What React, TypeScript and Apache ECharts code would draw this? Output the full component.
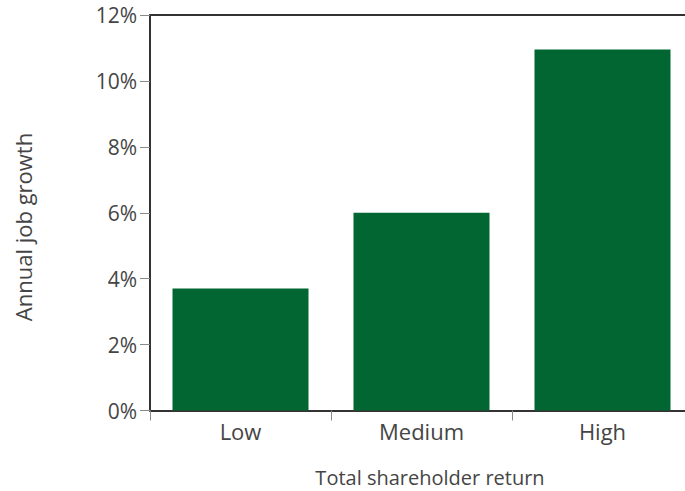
import React, { useEffect, useRef } from "react";
import * as echarts from "echarts";

const categories = ["Low", "Medium", "High"];
const jobGrowth = [3.7, 6.0, 10.95];
const yMin = 0;
const yMax = 12;
const yStep = 2;
const xTitle = "Total shareholder return";
const yTitle = "Annual job growth";

const FONT = "'Open Sans', 'Noto Sans', sans-serif";
const TEXT = "#454545";
const GREEN = "#026633";

export default function App() {
  const ref = useRef<HTMLDivElement>(null);

  useEffect(() => {
    if (!ref.current) return;
    const chart = echarts.init(ref.current, null, { renderer: "svg" });
    chart.setOption({
      animation: false,
      backgroundColor: "#ffffff",
      grid: {
        left: 150,
        top: 15,
        right: -8,
        bottom: 80.5,
        outerBoundsMode: "none",
      },
      xAxis: [
        {
          type: "category",
          data: categories,
          position: "bottom",
          boundaryGap: true,
          axisLine: { show: true, lineStyle: { color: "#333333", width: 2 } },
          axisTick: { show: true, length: 10, lineStyle: { color: "#8a8a8a", width: 1 } },
          axisLabel: { margin: 9, color: TEXT, fontFamily: FONT, fontSize: 22 },
        },
        {
          type: "category",
          data: categories,
          position: "top",
          axisLine: { show: true, lineStyle: { color: "#333333", width: 2 } },
          axisTick: { show: false },
          axisLabel: { show: false },
        },
      ],
      yAxis: {
        type: "value",
        min: yMin,
        max: yMax,
        interval: yStep,
        axisLine: { show: true, lineStyle: { color: "#333333", width: 2 } },
        axisTick: { show: true, length: 10, lineStyle: { color: "#8a8a8a", width: 1 } },
        splitLine: { show: false },
        axisLabel: {
          margin: 13,
          color: TEXT,
          fontFamily: FONT,
          fontSize: 21,
          padding: [4, 0, 0, 0],
          formatter: "{value}%",
        },
      },
      graphic: [
        {
          type: "text",
          x: 430,
          y: 477,
          style: {
            text: xTitle,
            fill: TEXT,
            font: `20px ${FONT}`,
            align: "center",
            verticalAlign: "middle",
          },
        },
        {
          type: "text",
          x: 23,
          y: 227,
          rotation: Math.PI / 2,
          style: {
            text: yTitle,
            fill: TEXT,
            font: `22px ${FONT}`,
            align: "center",
            verticalAlign: "middle",
          },
        },
      ],
      series: [
        {
          type: "bar",
          data: jobGrowth,
          barWidth: 136,
          itemStyle: { color: GREEN },
        },
      ],
    });
    return () => chart.dispose();
  }, []);

  return (
    <div
      ref={ref}
      style={{ position: "fixed", left: 0, top: 0, width: 685, height: 491 }}
    />
  );
}
